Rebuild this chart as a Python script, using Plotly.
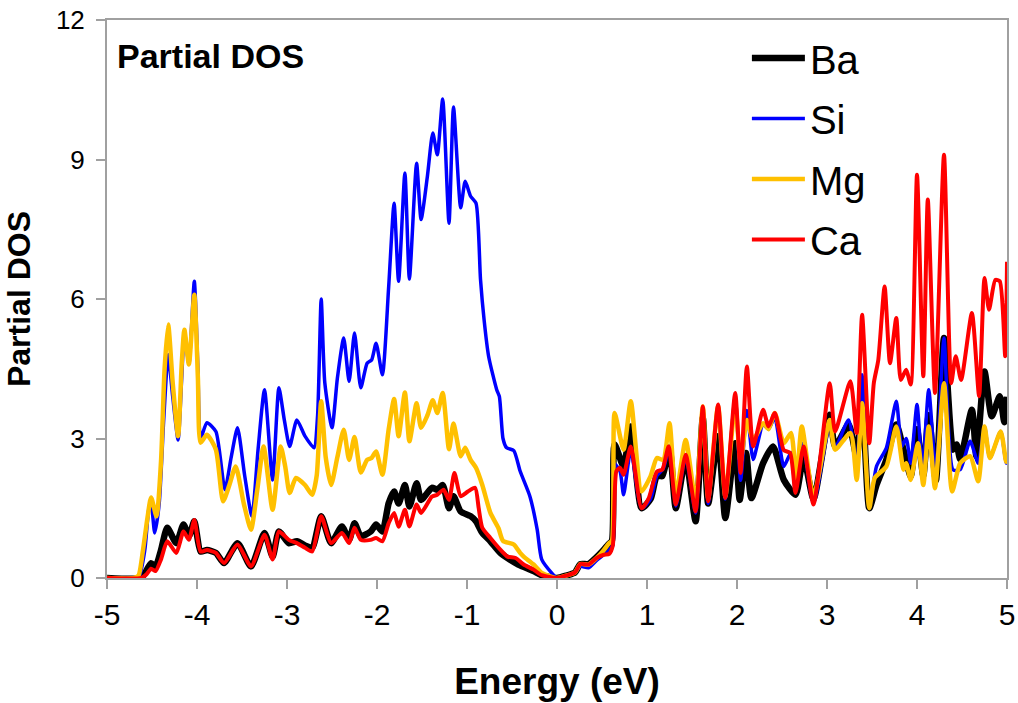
import plotly.graph_objects as go

# Partial density of states for each species, energies in eV relative to E_F
ba_energy = [-5.0, -4.62, -4.58, -4.51, -4.46, -4.40, -4.33, -4.23, -4.15, -4.09, -4.03, -3.96, -3.89,
             -3.79, -3.70, -3.55, -3.40, -3.25, -3.16, -3.09, -2.98, -2.89, -2.80, -2.72, -2.62, -2.51,
             -2.39, -2.31, -2.25, -2.18, -2.07, -2.01, -1.94, -1.87, -1.81, -1.76, -1.69, -1.64, -1.56,
             -1.51, -1.39, -1.33, -1.27, -1.20, -1.15, -1.07, -0.96, -0.90, -0.83, -0.74, -0.63, -0.55,
             -0.43, -0.26, -0.17, 0.0, 0.10, 0.20, 0.26, 0.35, 0.44, 0.52, 0.57, 0.61, 0.64, 0.74, 0.82,
             0.94, 1.04, 1.11, 1.17, 1.25, 1.32, 1.43, 1.54, 1.62, 1.68, 1.79, 1.87, 1.98, 2.03, 2.10,
             2.16, 2.29, 2.40, 2.52, 2.65, 2.74, 2.85, 3.03, 3.09, 3.24, 3.33, 3.39, 3.47, 3.55, 3.66,
             3.77, 3.85, 3.93, 4.00, 4.07, 4.13, 4.21, 4.30, 4.40, 4.44, 4.48, 4.61, 4.66, 4.75, 4.83,
             4.92, 4.97, 5.0]
ba_dos = [0.0, 0.0, 0.1, 0.32, 0.25, 0.6, 1.08, 0.75, 1.15, 0.9, 1.22, 0.57, 0.6,
          0.54, 0.32, 0.75, 0.25, 0.97, 0.46, 1.0, 0.75, 0.79, 0.7, 0.65, 1.33, 0.75,
          1.11, 0.82, 1.18, 0.9, 1.0, 1.15, 1.0, 1.61, 1.86, 1.6, 2.0, 1.54, 2.04,
          1.68, 1.94, 1.9, 2.0, 1.5, 1.76, 1.43, 1.33, 1.22, 0.97, 0.79, 0.54, 0.43,
          0.29, 0.15, 0.06, 0.0, 0.05, 0.12, 0.3, 0.3, 0.45, 0.61, 0.72, 0.8, 2.87, 2.4, 3.26,
          1.5, 1.7, 2.2, 2.19, 2.8, 1.5, 2.58, 1.22, 3.44, 1.6, 3.05, 1.29, 2.9, 1.68, 2.69,
          1.72, 2.47, 2.83, 2.11, 1.79, 2.6, 1.7, 3.51, 2.83, 3.3, 2.6, 3.9, 1.5, 2.0, 2.55,
          3.3, 2.76, 2.19, 3.2, 2.2, 3.5, 2.1, 5.16, 2.76, 2.87, 2.55, 3.62, 2.62, 4.44, 3.48,
          3.91, 3.35, 3.9]

si_energy = [-5.0, -4.70, -4.64, -4.58, -4.53, -4.51, -4.47, -4.42, -4.37, -4.32, -4.27, -4.21, -4.17,
             -4.14, -4.09, -4.03, -3.99, -3.96, -3.89, -3.79, -3.69, -3.62, -3.55, -3.47, -3.39, -3.32,
             -3.25, -3.16, -3.09, -3.03, -2.97, -2.89, -2.80, -2.70, -2.66, -2.62, -2.58, -2.50, -2.44,
             -2.37, -2.31, -2.25, -2.18, -2.11, -2.06, -2.01, -1.94, -1.87, -1.81, -1.76, -1.69, -1.64,
             -1.56, -1.51, -1.44, -1.38, -1.33, -1.27, -1.20, -1.15, -1.07, -1.02, -0.96, -0.90, -0.85,
             -0.81, -0.76, -0.67, -0.64, -0.60, -0.56, -0.48, -0.41, -0.30, -0.22, -0.17, -0.06, 0.0,
             0.10, 0.20, 0.26, 0.35, 0.44, 0.52, 0.58, 0.62, 0.64, 0.70, 0.74, 0.82, 0.94, 1.04, 1.11,
             1.18, 1.25, 1.32, 1.43, 1.54, 1.62, 1.68, 1.79, 1.87, 1.98, 2.04, 2.11, 2.18, 2.29, 2.35,
             2.42, 2.52, 2.60, 2.65, 2.73, 2.85, 3.03, 3.09, 3.24, 3.33, 3.39, 3.47, 3.55, 3.66, 3.77,
             3.83, 3.88, 3.93, 4.00, 4.06, 4.13, 4.21, 4.30, 4.40, 4.48, 4.59, 4.68, 4.75, 4.81, 4.93,
             4.99, 5.0]
si_dos = [0.0, 0.0, 0.05, 0.6, 1.55, 1.6, 0.97, 1.6, 3.4, 4.8, 3.9, 2.97, 4.3,
          5.3, 4.6, 6.38, 4.5, 3.0, 3.34, 3.15, 1.9, 2.6, 3.23, 2.2, 1.33, 2.8,
          4.05, 2.11, 4.09, 3.4, 2.83, 3.4, 3.05, 2.8, 3.5, 6.0, 4.2, 3.23, 4.3,
          5.16, 4.23, 5.27, 4.09, 4.62, 4.69, 5.05, 4.37, 6.27, 8.06, 6.38, 8.71, 6.43,
          8.92, 7.71, 8.64, 9.57, 9.10, 10.3, 7.63, 10.13, 7.96, 8.53, 8.21, 8.06, 6.42,
          5.55, 4.77, 4.05, 3.9, 3.0, 2.8, 2.74, 2.3, 1.75, 1.04, 0.4, 0.11, 0.0,
          0.05, 0.12, 0.25, 0.22, 0.38, 0.5, 0.6, 0.7, 2.45, 2.3, 1.79, 2.75, 1.5, 1.7, 2.2,
          2.35, 2.8, 1.55, 2.6, 1.4, 3.65, 1.6, 3.7, 1.7, 3.9, 2.1, 3.6, 2.55, 3.3, 3.2,
          3.45, 2.4, 2.7, 1.85, 2.9, 1.6, 3.3, 2.8, 3.4, 2.4, 4.37, 1.5, 2.4, 2.8, 3.8,
          2.83, 3.0, 2.47, 3.73, 2.33, 4.05, 2.26, 5.16, 2.33, 2.33, 2.94, 2.47, 3.26, 2.58, 3.15,
          2.47, 2.5]

mg_energy = [-5.0, -4.70, -4.65, -4.60, -4.55, -4.51, -4.45, -4.40, -4.36, -4.32, -4.27, -4.21, -4.17,
             -4.14, -4.09, -4.03, -3.99, -3.96, -3.89, -3.79, -3.71, -3.64, -3.57, -3.48, -3.40, -3.33,
             -3.26, -3.16, -3.07, -3.02, -2.97, -2.90, -2.80, -2.72, -2.67, -2.62, -2.57, -2.51, -2.44,
             -2.37, -2.31, -2.25, -2.18, -2.11, -2.06, -2.01, -1.94, -1.87, -1.81, -1.76, -1.69, -1.64,
             -1.56, -1.51, -1.44, -1.38, -1.33, -1.27, -1.20, -1.15, -1.07, -1.02, -0.96, -0.90, -0.83,
             -0.74, -0.65, -0.60, -0.48, -0.41, -0.37, -0.26, -0.17, -0.05, 0.0, 0.10, 0.20, 0.26, 0.35,
             0.44, 0.52, 0.58, 0.61, 0.64, 0.74, 0.82, 0.94, 1.04, 1.11, 1.18, 1.25, 1.32, 1.43, 1.54,
             1.62, 1.68, 1.79, 1.87, 1.98, 2.04, 2.11, 2.18, 2.29, 2.35, 2.42, 2.52, 2.60, 2.66, 2.72,
             2.85, 3.03, 3.09, 3.26, 3.33, 3.39, 3.47, 3.53, 3.66, 3.77, 3.85, 3.88, 3.93, 4.01, 4.07,
             4.13, 4.20, 4.30, 4.39, 4.48, 4.59, 4.68, 4.75, 4.81, 4.93, 4.99, 5.0]
mg_dos = [0.0, 0.0, 0.05, 0.6, 1.3, 1.73, 1.33, 2.5, 4.5, 5.45, 4.2, 3.05, 4.6,
          5.34, 4.59, 6.09, 4.3, 2.91, 3.08, 2.76, 1.65, 2.0, 2.4, 1.6, 1.04, 1.9,
          2.83, 1.47, 2.83, 2.4, 1.83, 2.15, 2.0, 1.79, 2.2, 3.8, 2.6, 2.0, 2.6,
          3.19, 2.54, 3.03, 2.27, 2.54, 2.58, 2.72, 2.22, 3.2, 3.85, 3.05, 3.99, 2.94,
          3.76, 3.23, 3.5, 3.82, 3.55, 3.98, 2.77, 3.32, 2.62, 2.80, 2.54, 2.37, 2.0,
          1.40, 1.07, 0.8, 0.72, 0.54, 0.46, 0.29, 0.11, 0.02, 0.0, 0.05, 0.12, 0.3, 0.29,
          0.43, 0.6, 0.75, 0.8, 3.55, 2.76, 3.8, 1.86, 2.19, 2.58, 2.54, 3.33, 1.76, 2.97, 1.64,
          3.69, 1.7, 3.7, 1.75, 3.73, 2.5, 3.4, 2.97, 3.33, 3.2, 3.55, 2.9, 3.12, 2.11, 3.26,
          1.75, 3.4, 2.76, 3.12, 2.11, 3.76, 1.5, 2.15, 2.4, 3.26, 2.33, 2.47, 2.11, 2.9, 2.0,
          3.26, 1.93, 4.19, 1.86, 2.47, 2.62, 2.08, 3.26, 2.58, 3.15, 2.5, 2.6]

ca_energy = [-5.0, -4.62, -4.56, -4.51, -4.46, -4.40, -4.33, -4.23, -4.15, -4.09, -4.03, -3.96, -3.89,
             -3.79, -3.70, -3.55, -3.40, -3.25, -3.16, -3.09, -2.98, -2.89, -2.80, -2.72, -2.62, -2.51,
             -2.39, -2.31, -2.25, -2.18, -2.07, -2.01, -1.94, -1.87, -1.81, -1.76, -1.69, -1.64, -1.56,
             -1.51, -1.39, -1.33, -1.26, -1.20, -1.14, -1.07, -0.99, -0.91, -0.87, -0.83, -0.74, -0.63,
             -0.55, -0.46, -0.37, -0.26, -0.17, 0.0, 0.10, 0.20, 0.26, 0.35, 0.44, 0.52, 0.58, 0.62,
             0.66, 0.70, 0.74, 0.82, 0.94, 1.02, 1.11, 1.17, 1.24, 1.32, 1.43, 1.54, 1.62, 1.68, 1.79,
             1.87, 1.98, 2.04, 2.11, 2.18, 2.29, 2.35, 2.42, 2.52, 2.59, 2.65, 2.74, 2.85, 3.03, 3.09,
             3.26, 3.33, 3.39, 3.47, 3.52, 3.57, 3.64, 3.70, 3.77, 3.82, 3.88, 3.93, 4.00, 4.07, 4.12,
             4.20, 4.30, 4.38, 4.43, 4.49, 4.61, 4.69, 4.75, 4.80, 4.87, 4.92, 4.98, 5.0]
ca_dos = [0.0, 0.0, 0.08, 0.2, 0.15, 0.4, 0.79, 0.54, 1.0, 0.82, 1.25, 0.57, 0.6,
          0.54, 0.32, 0.72, 0.25, 0.93, 0.4, 1.0, 0.82, 0.75, 0.65, 0.57, 1.33, 0.75,
          0.97, 0.75, 1.08, 0.82, 0.82, 0.86, 0.79, 1.18, 1.4, 1.1, 1.47, 1.11, 1.58,
          1.4, 1.75, 1.79, 1.9, 1.68, 2.26, 1.76, 1.86, 1.94, 1.5, 1.08, 0.86, 0.61,
          0.46, 0.43, 0.29, 0.18, 0.06, 0.0, 0.05, 0.12, 0.3, 0.29, 0.43, 0.5, 0.52, 0.7,
          2.3, 2.37, 2.22, 2.83, 1.5, 1.72, 2.29, 2.33, 2.83, 1.58, 2.65, 1.43, 3.69, 1.65, 3.73,
          1.72, 3.98, 2.26, 4.55, 2.83, 3.62, 3.26, 3.55, 2.75, 2.69, 1.83, 2.83, 1.58, 4.19, 3.15,
          4.23, 3.12, 5.66, 2.9, 4.19, 4.69, 6.27, 4.62, 5.59, 4.26, 4.48, 4.16, 8.67, 4.34, 8.14,
          3.98, 9.1, 4.19, 4.77, 4.26, 5.7, 3.91, 6.45, 5.77, 6.41, 6.38, 4.77, 6.8]

series = [
    ("Ba", ba_energy, ba_dos, "#000000", 6.5),
    ("Si", si_energy, si_dos, "#0000FF", 3.5),
    ("Mg", mg_energy, mg_dos, "#FFC000", 4.5),
    ("Ca", ca_energy, ca_dos, "#FF0000", 4),
]

x_ticks = [-5, -4, -3, -2, -1, 0, 1, 2, 3, 4, 5]
y_ticks = [0, 3, 6, 9, 12]

FONT = "Liberation Sans, Arial, sans-serif"
AXIS_GREY = "#A0A0A0"

fig = go.Figure()
for name, e, d, color, width in series:
    fig.add_trace(go.Scatter(
        x=e, y=d, name=name, legendgroup=name, mode="lines",
        line=dict(color=color, width=width, shape="spline", smoothing=0.6),
    ))

fig.update_layout(
    width=1018, height=703,
    margin=dict(l=107, r=11, t=20, b=125),
    paper_bgcolor="white", plot_bgcolor="white",
    font=dict(family=FONT, color="black"),
    showlegend=True,
    legend=dict(
        x=0.711, y=0.99, xanchor="left", yanchor="top",
        font=dict(family=FONT, size=40, color="black"),
        bgcolor="rgba(0,0,0,0)", itemwidth=53,
        traceorder="grouped", tracegroupgap=5.5,
    ),
    annotations=[dict(
        text="<b>Partial DOS</b>", xref="paper", yref="paper",
        x=0.009, y=0.936, xanchor="left", yanchor="middle",
        showarrow=False, font=dict(family=FONT, size=34, color="black"),
    )],
)

fig.update_xaxes(
    range=[-5, 5], tickvals=x_ticks, ticktext=[str(v) for v in x_ticks],
    ticks="outside", ticklen=9, tickwidth=2, tickcolor=AXIS_GREY,
    showline=True, linecolor=AXIS_GREY, linewidth=2, mirror=True,
    showgrid=False, zeroline=False, automargin=False,
    tickfont=dict(family=FONT, size=30, color="black"),
    title=dict(text="<b>Energy (eV)</b>", font=dict(family=FONT, size=37, color="black"), standoff=38),
)
fig.update_yaxes(
    range=[0, 12], tickvals=y_ticks, ticktext=[str(v) for v in y_ticks],
    ticks="outside", ticklen=9, tickwidth=2, tickcolor=AXIS_GREY,
    showline=True, linecolor=AXIS_GREY, linewidth=2, mirror=True,
    showgrid=False, zeroline=False, automargin=False,
    tickfont=dict(family=FONT, size=26, color="black"), ticklabelstandoff=6,
    title=dict(text="<b>Partial DOS</b>", font=dict(family=FONT, size=32, color="black"), standoff=16),
)

fig.write_html("out.html")
